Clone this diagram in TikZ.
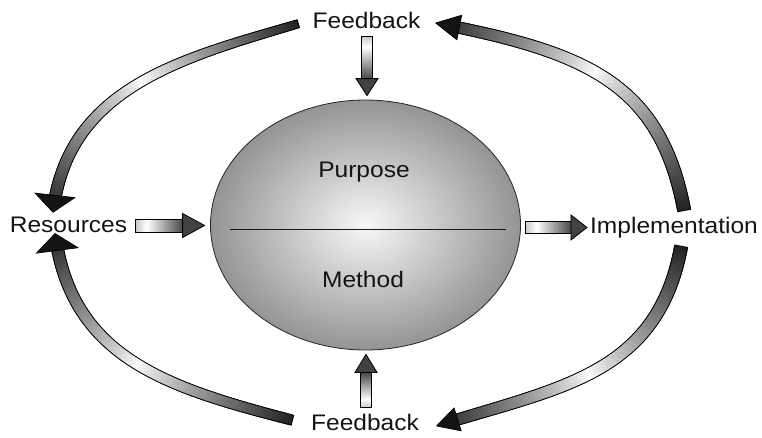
\documentclass[tikz,border=0pt]{standalone}
\usepackage{fontspec}
\newfontfamily\labelfont{Liberation Sans}[FakeStretch=1.09]
\usetikzlibrary{shapes.geometric,decorations.markings,calc}

% ---- gradient tubes: a shaded band laid along a curved path, with a triangular head ----
% tone along the ring arrows: dark at both ends, light in the middle
\newcommand\tubetoneArc{\pgfmathsetmacro\tubeDark{86*(abs(2*\tubeT-1)+0.001)^0.85}}
\newcommand\tubecalc{%
  \pgfmathsetmacro\tubeT{(\pgfkeysvalueof{/pgf/decoration/mark info/distance from start})/(\pgfdecoratedpathlength)}%
  \pgfmathsetmacro\tubeOn{(\pgfkeysvalueof{/pgf/decoration/mark info/distance from start}) < (\pgfdecoratedpathlength-\tubeHL pt) ? 1 : 0}%
  \pgfmathsetmacro\tubeHalf{0.5*(\tubeWa+(\tubeWb-\tubeWa)*\tubeT)}%
}
\newcommand\tubeedge{\tubecalc
  \ifdim\tubeOn pt>0.5pt
    \fill[black] (-1.4pt,-\tubeHalf pt-0.9pt) rectangle (0.6pt,\tubeHalf pt+0.9pt);
  \fi}
\newcommand\tubebody{\tubecalc\tubetoneArc
  \ifdim\tubeOn pt>0.5pt
    \fill[black!\tubeDark!white] (-0.6pt,-\tubeHalf pt) rectangle (0.6pt,\tubeHalf pt);
  \fi}
\newcommand\tubehead{%
  \filldraw[fill=black!92, draw=black, line width=0.7pt, line join=miter]
    (0pt,0pt) -- (-\tubeHL pt,\tubeHH pt) -- (-\tubeHL pt,-\tubeHH pt) -- cycle;}

% shaft shading of the short block arrows: light at the tail, dark at the head
\pgfdeclarehorizontalshading{blockshade}{100bp}{color(0bp)=(black!22);
  color(25bp)=(black!22); color(37bp)=(white); color(75bp)=(black!72);
  color(100bp)=(black!72)}

\tikzset{
  tube w0/.store in=\tubeWa, tube w1/.store in=\tubeWb,
  head len/.store in=\tubeHL, head half/.store in=\tubeHH,
  tube w0=10, tube w1=10, head len=18, head half=12,
  ringarrow/.style={
    preaction={decorate, decoration={markings,
      mark=between positions 0 and 1 step 0.8pt with {\tubeedge}}},
    postaction={decorate, decoration={markings,
      mark=between positions 0 and 1 step 0.8pt with {\tubebody}}},
    postaction={decorate, decoration={markings,
      mark=at position 0.9995 with {\tubehead}}}},
  blockshaft/.style={shading=blockshade, draw=black, line width=0.8pt},
  blockhead/.style={fill=black!74, draw=black, line width=0.8pt, line join=miter},
  labeltext/.style={font=\labelfont\fontsize{22.5}{27}\selectfont, text=black!92,
    inner sep=0pt, anchor=base},
  core/.style={ellipse, draw=black!85, line width=0.8pt, minimum width=310pt,
    minimum height=250pt, inner sep=0pt, shading=radial,
    inner color=white!97!black, outer color=black!42},
}

\begin{document}
\begin{tikzpicture}[x=1pt,y=-1pt]
\fill[white] (0,0) rectangle (762,437);
\useasboundingbox (0,0) rectangle (762,437);

% labels round the cycle
\node[labeltext] (fbtop) at (366.5,28) {Feedback};
\node[labeltext] (fbbot) at (365,430) {Feedback};
\node[labeltext] (res) at (68.5,232) {Resources};
\node[labeltext] (impl) at (674,233) {Implementation};

% central ellipse split into purpose and method
\node[core] (ell) at (365.5,225) {};
\draw[line width=0.9pt, black!90] ($(ell.west)+(19.5,4)$) -- ($(ell.east)+(-14.5,4)$);
\node[labeltext] (purpose) at (364,177) {Purpose};
\node[labeltext] (method) at (363,287) {Method};

% short block arrows into and out of the ellipse
\coordinate (ta) at ($(fbtop.south)+(0.5,8)$);
\coordinate (tb) at ($(ell.north)+(1.5,-4)$);
\shade[blockshaft, shading angle=-90] ($(ta)+(-5.5,0)$) rectangle ($(tb)+(5.5,-17)$);
\filldraw[blockhead] (tb) -- ($(tb)+(-11,-17)$) -- ($(tb)+(11,-17)$) -- cycle;

\coordinate (ba) at ($(fbbot.north)+(1,-5.9)$);
\coordinate (bb) at ($(ell.south)+(0.5,4)$);
\shade[blockshaft, shading angle=90] ($(ba)+(-5.5,0)$) rectangle ($(bb)+(5.5,18)$);
\filldraw[blockhead] (bb) -- ($(bb)+(-11,18)$) -- ($(bb)+(11,18)$) -- cycle;

\coordinate (la) at ($(res.east)+(8,1.5)$);
\coordinate (lb) at ($(ell.west)+(-5.5,0.5)$);
\shade[blockshaft] ($(la)+(0,-6.5)$) rectangle ($(lb)+(-22,6.5)$);
\filldraw[blockhead] (lb) -- ($(lb)+(-22,-12)$) -- ($(lb)+(-22,12)$) -- cycle;

\coordinate (ra) at ($(ell.east)+(4.5,2.5)$);
\coordinate (rb) at ($(impl.west)+(-3,0.3)$);
\shade[blockshaft] ($(ra)+(0,-6)$) rectangle ($(rb)+(-16,6)$);
\filldraw[blockhead] (rb) -- ($(rb)+(-16,-12.5)$) -- ($(rb)+(-16,12.5)$) -- cycle;

% curved arrows of the outer loop
\path[ringarrow, tube w0=7, tube w1=11, head len=17, head half=20]
  ($(fbtop.west)+(-15,4)$) .. controls +(-115,34) and +(14,-125) .. ($(res.north)+(-15.5,-3.9)$);
\path[ringarrow, tube w0=12, tube w1=10, head len=24, head half=12.5]
  ($(impl.north)+(10,-6.9)$) .. controls +(-24,-127) and +(150,29) .. ($(fbtop.east)+(15,3)$);
\path[ringarrow, tube w0=9, tube w1=11, head len=17, head half=21]
  ($(fbbot.west)+(-19.4,-2)$) .. controls +(-126,-32.5) and +(16,123.7) .. ($(res.south)+(-13.5,1)$);
\path[ringarrow, tube w0=12, tube w1=10, head len=22, head half=12]
  ($(impl.south)+(7,9.3)$) .. controls +(-24,127.4) and +(125.5,-39) .. ($(fbbot.east)+(17.4,4)$);
\end{tikzpicture}
\end{document}
